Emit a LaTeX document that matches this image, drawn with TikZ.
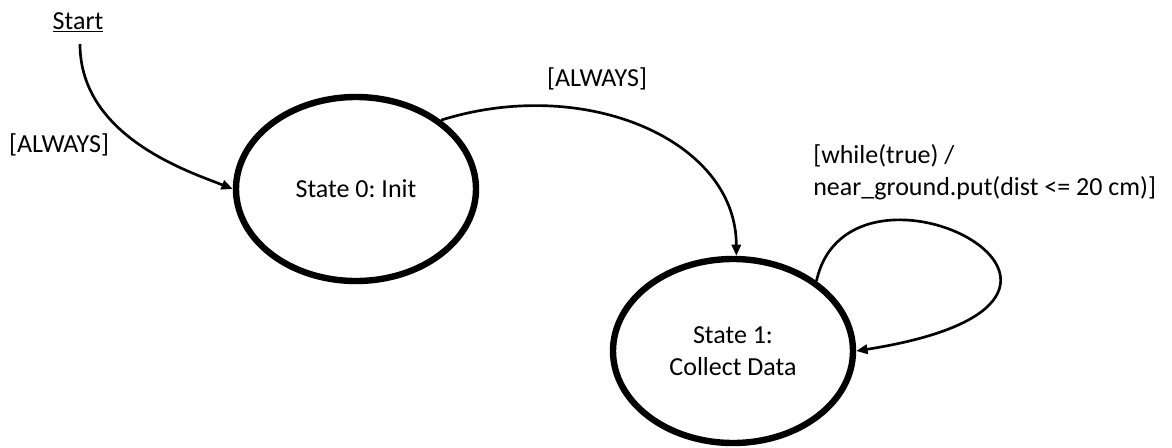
\documentclass[tikz,border=0pt]{standalone}
\usepackage{fontspec}
\setmainfont{Carlito}
\usetikzlibrary{arrows.meta,shapes.geometric}
\frenchspacing
\begin{document}
\begin{tikzpicture}[x=0.75pt,y=-0.75pt,
  every node/.style={font=\fontsize{19.5}{24.5}\selectfont,text=black},
  state/.style={ellipse,draw,line width=4.8pt,minimum width=180pt,
    minimum height=138pt,inner sep=0pt,align=center},
  conn/.style={line width=2pt,-{Triangle[length=8.5pt,width=7pt]}},
  lbl/.style={inner sep=0pt}]
\useasboundingbox (0,0) rectangle (1172,447);

% states
\node[state] (s0) at (356,189) {State 0: Init};
\node[state] (s1) at (733,351) {State 1:\\Collect Data};

% initial pseudo-state
\node[lbl,anchor=base] (start) at (78,29) {\underline{Start}};
\coordinate (startfoot) at (80,44);

% transitions
\draw[conn] (startfoot) .. controls (80,137) and (190,172) .. (s0.west);
\draw[conn] (s0.39) .. controls (585,75) and (s1.88 |- 0,140) .. (s1.88);
\draw[conn] (s1.40) .. controls (850,130) and (1180,300) .. (s1.east);

% transition labels
\node[lbl] (l0) at (59,145) {[ALWAYS]};
\node[lbl] (l1) at (597,79) {[ALWAYS]};
\node[lbl,anchor=north west,align=left] (l2) at (813,144)
  {[while(true) /\\near\_ground.put(dist <= 20 cm)]};
\end{tikzpicture}
\end{document}
